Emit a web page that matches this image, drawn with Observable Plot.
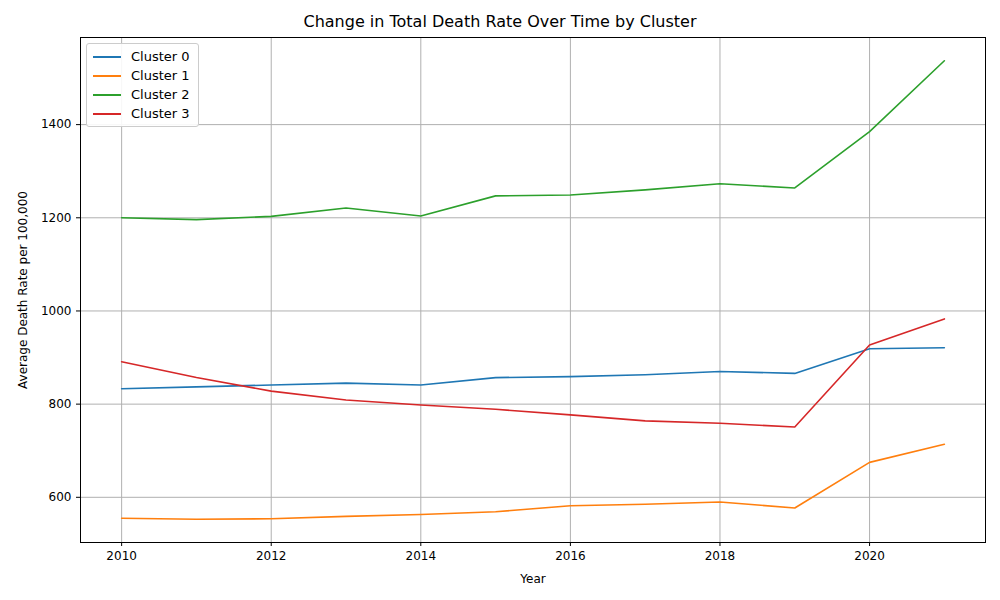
<!DOCTYPE html>
<html>
<head>
<meta charset="utf-8">
<script src="https://cdn.jsdelivr.net/npm/d3@7"></script>
<script src="https://cdn.jsdelivr.net/npm/@observablehq/plot@0.6"></script>
<style>
  body { margin: 0; background: #fff; font-family: "DejaVu Sans", sans-serif; }
  #wrap { position: relative; width: 1000px; height: 600px; }
  #title { height: 30px; text-align: center; font-size: 16px; line-height: 44px; color: #000; }
  #legend { position: absolute; left: 86px; top: 43px; background: rgba(255,255,255,0.9);
    border: 1px solid #ccc; border-radius: 3px; padding: 3px 8px 3px 6px; font-size: 13px; }
  #legend div { display: flex; align-items: center; height: 19px; }
  #legend span.sw { display: inline-block; width: 28px; height: 2px; margin-right: 10px; }
</style>
</head>
<body>
<div id="wrap">
  <div id="title">Change in Total Death Rate Over Time by Cluster</div>
  <div id="chart"></div>
  <div id="legend"></div>
</div>
<script>
var years = [2010, 2011, 2012, 2013, 2014, 2015, 2016, 2017, 2018, 2019, 2020, 2021];
var clusters = ["Cluster 0", "Cluster 1", "Cluster 2", "Cluster 3"];
var colors = ["#1f77b4", "#ff7f0e", "#2ca02c", "#d62728"];
var cluster0 = [833, 837, 841, 845, 841, 857, 859, 863, 870, 866, 919, 921];
var cluster1 = [555, 553, 554, 559, 563, 569, 582, 585, 590, 577, 675, 714];
var cluster2 = [1200, 1196, 1203, 1221, 1204, 1247, 1249, 1260, 1273, 1264, 1385, 1537];
var cluster3 = [891, 857, 828, 809, 798, 789, 777, 764, 759, 751, 927, 983];
var xTicks = [2010, 2012, 2014, 2016, 2018, 2020];
var yTicks = [600, 800, 1000, 1200, 1400];

var series = [cluster0, cluster1, cluster2, cluster3];
var data = [];
series.forEach((vals, i) => {
  vals.forEach((v, j) => data.push({ year: years[j], value: v, cluster: clusters[i] }));
});

var plot = Plot.plot({
  width: 1000,
  height: 570,
  marginTop: 7,
  marginBottom: 58,
  marginLeft: 80,
  marginRight: 15,
  style: { fontFamily: "DejaVu Sans, sans-serif", fontSize: "12px", color: "#000", background: "white" },
  x: { domain: [2009.45, 2021.55] },
  y: { domain: [503, 1587] },
  color: { domain: clusters, range: colors },
  marks: [
    Plot.gridX(xTicks, { stroke: "#b0b0b0", strokeOpacity: 1 }),
    Plot.gridY(yTicks, { stroke: "#b0b0b0", strokeOpacity: 1 }),
    Plot.frame({ stroke: "#000" }),
    Plot.axisX({ ticks: xTicks, tickFormat: d3.format("d"), tickSize: 4, fontSize: 12,
      label: "Year", labelAnchor: "center", labelArrow: "none", labelOffset: 40 }),
    Plot.axisY({ ticks: yTicks, tickFormat: d3.format("d"), tickSize: 4, fontSize: 12,
      label: "Average Death Rate per 100,000", labelAnchor: "center", labelArrow: "none", labelOffset: 62 }),
    Plot.line(data, { x: "year", y: "value", stroke: "cluster", strokeWidth: 1.6 })
  ]
});
document.getElementById("chart").appendChild(plot);

var legend = document.getElementById("legend");
clusters.forEach((c, i) => {
  var row = document.createElement("div");
  row.innerHTML = '<span class="sw" style="background:' + colors[i] + '"></span>' + c;
  legend.appendChild(row);
});
</script>
</body>
</html>
